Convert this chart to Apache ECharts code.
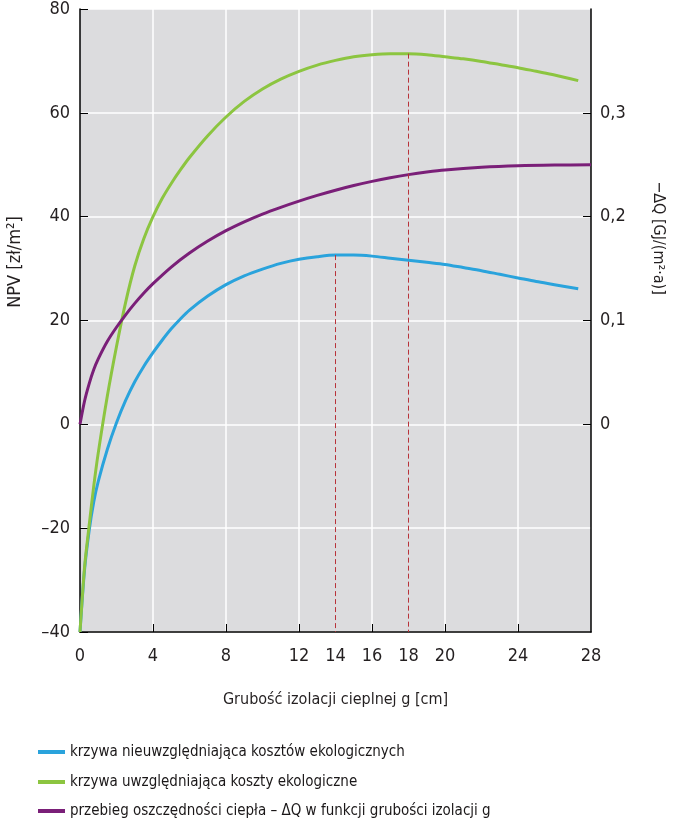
<!DOCTYPE html>
<html>
<head>
<meta charset="utf-8">
<script src="https://cdn.jsdelivr.net/npm/echarts@6/dist/echarts.min.js"></script>
<style>
html,body{margin:0;padding:0;background:#fff;}
#chart{width:673px;height:827px;}
</style>
</head>
<body>
<div id="chart"></div>
<script>
var FONT = "'Liberation Sans Narrow', 'DejaVu Sans Condensed', sans-serif";

// grubość izolacji g [cm] -> NPV [zł/m2]
var bluePts = [
    [0, -40], [0.25, -28], [0.5, -20.5], [0.75, -15], [1, -11], [1.5, -4.8], [2, 0.3],
    [2.5, 4.6], [3, 8.2], [3.5, 11.2], [4, 13.8], [4.5, 16.2], [5, 18.4], [5.5, 20.3],
    [6, 22], [7, 24.7], [8, 26.9], [9, 28.6], [10, 29.9], [11, 31], [12, 31.8], [13, 32.3],
    [14, 32.6], [15, 32.6], [16, 32.4], [17, 32], [18, 31.6], [19, 31.2], [20, 30.8],
    [21, 30.2], [22, 29.6], [23, 28.9], [24, 28.2], [25, 27.5], [26, 26.9], [27.3, 26.1]
];
var greenPts = [
    [0, -40], [0.25, -27.5], [0.5, -19.5], [0.75, -12], [1, -5.5], [1.5, 5.5], [2, 15],
    [2.5, 23.5], [3, 30.5], [3.5, 35.8], [4, 40], [4.5, 43.5], [5, 46.4], [5.5, 49],
    [6, 51.4], [7, 55.6], [8, 59.2], [9, 62.2], [10, 64.6], [11, 66.5], [12, 68], [13, 69.2],
    [14, 70.1], [15, 70.8], [16, 71.2], [17, 71.4], [18, 71.4], [19, 71.2], [20, 70.8],
    [21, 70.4], [22, 69.9], [23, 69.3], [24, 68.7], [25, 68], [26, 67.3], [27.3, 66.2]
];
// -dQ [GJ/(m2 a)], right axis
var purplePts = [
    [0, 0], [0.25, 0.0225], [0.5, 0.039], [0.75, 0.0525], [1, 0.063], [1.5, 0.08], [2, 0.0935],
    [2.5, 0.1055], [3, 0.1165], [3.5, 0.1265], [4, 0.1355], [5, 0.1515], [6, 0.165],
    [7, 0.1765], [8, 0.1865], [9, 0.195], [10, 0.2025], [11, 0.209], [12, 0.215], [13, 0.2205],
    [14, 0.2255], [15, 0.23], [16, 0.234], [17, 0.2375], [18, 0.2405], [19, 0.243], [20, 0.245],
    [22, 0.2475], [24, 0.249], [26, 0.2497], [28, 0.25]
];
var optima = [[14, 32.6], [18, 71.4]];

var xLabels = [0, 4, 8, 12, 14, 16, 18, 20, 24, 28];
var xTicks = [4, 8, 12, 16, 20, 24];
var rightLabels = [0, 0.1, 0.2, 0.3];

var names = [
    'krzywa nieuwzględniająca kosztów ekologicznych',
    'krzywa uwzględniająca koszty ekologiczne',
    'przebieg oszczędności ciepła – ΔQ w funkcji grubości izolacji g'
];
var colors = ['#2aa3dc', '#8cc540', '#7a1f78'];
var legendTops = [742, 772, 801];

var chart = echarts.init(document.getElementById('chart'));

var dropLines = optima.map(function (p) {
    return [{coord: [p[0], p[1]]}, {coord: [p[0], -40]}];
});

var legends = names.map(function (n, i) {
    return {
        left: 38, top: legendTops[i], padding: 0,
        itemWidth: 27, itemHeight: 4, icon: 'rect',
        textStyle: {fontFamily: FONT, fontSize: 15, color: '#1a1718', lineHeight: 20},
        data: [n]
    };
});

var option = {
    backgroundColor: '#fff',
    animation: false,
    textStyle: {fontFamily: FONT, color: '#231f20'},
    grid: {
        left: 80, right: 82, top: 8, bottom: 195,
        show: true, backgroundColor: '#dcdcde', borderWidth: 0
    },
    legend: legends,
    xAxis: {
        type: 'value', min: 0, max: 28, interval: 2,
        name: 'Grubość izolacji cieplnej g [cm]',
        nameLocation: 'middle', nameGap: 60,
        nameTextStyle: {fontFamily: FONT, fontSize: 16, color: '#231f20'},
        axisLine: {show: true, onZero: false, lineStyle: {color: '#000', width: 1.5}},
        axisTick: {show: true, inside: true, length: 8, customValues: xTicks, lineStyle: {color: '#000'}},
        axisLabel: {customValues: xLabels, margin: 15, fontSize: 18, color: '#231f20', fontFamily: FONT},
        splitLine: {show: true, lineStyle: {color: '#fff', width: 1.5}}
    },
    yAxis: [{
        type: 'value', min: -40, max: 80, interval: 20,
        axisLine: {show: true, lineStyle: {color: '#000', width: 1.5}},
        axisTick: {show: true, inside: true, length: 8, lineStyle: {color: '#000'}},
        axisLabel: {
            margin: 10, fontSize: 18, color: '#231f20', fontFamily: FONT,
            formatter: function (v) { return String(v).replace('-', '–'); }
        },
        splitLine: {show: true, lineStyle: {color: '#fff', width: 1.5}}
    }, {
        type: 'value', min: -0.2, max: 0.4, interval: 0.1, position: 'right',
        axisLine: {show: true, lineStyle: {color: '#000', width: 1.5}},
        axisTick: {show: true, inside: true, length: 8, customValues: rightLabels, lineStyle: {color: '#000'}},
        axisLabel: {
            customValues: rightLabels, margin: 9, fontSize: 18, color: '#231f20', fontFamily: FONT,
            formatter: function (v) { return v === 0 ? '0' : v.toFixed(1).replace('.', ','); }
        },
        splitLine: {show: false}
    }],
    graphic: [{
        type: 'text', x: 15, y: 262, rotation: Math.PI / 2,
        style: {text: 'NPV [zł/m²]', font: '18px ' + FONT, fill: '#231f20', align: 'center', verticalAlign: 'middle'}
    }, {
        type: 'text', x: 658, y: 238, rotation: -Math.PI / 2,
        style: {text: '−ΔQ [GJ/(m²·a)]', font: '16px ' + FONT, fill: '#231f20', align: 'center', verticalAlign: 'middle'}
    }],
    series: [{
        name: names[0], type: 'line', data: bluePts, smooth: 0.3, showSymbol: false,
        lineStyle: {color: colors[0], width: 3}, itemStyle: {color: colors[0]},
        z: 3,
        markLine: {
            silent: true, symbol: ['none', 'none'], label: {show: false},
            lineStyle: {color: '#b8333a', type: [5, 3], width: 1},
            data: dropLines
        }
    }, {
        name: names[1], type: 'line', data: greenPts, smooth: 0.3, showSymbol: false,
        lineStyle: {color: colors[1], width: 3}, itemStyle: {color: colors[1]}, z: 3
    }, {
        name: names[2], type: 'line', yAxisIndex: 1, data: purplePts, smooth: 0.3, showSymbol: false,
        lineStyle: {color: colors[2], width: 3}, itemStyle: {color: colors[2]}, z: 3
    }]
};

chart.setOption(option);
</script>
</body>
</html>
